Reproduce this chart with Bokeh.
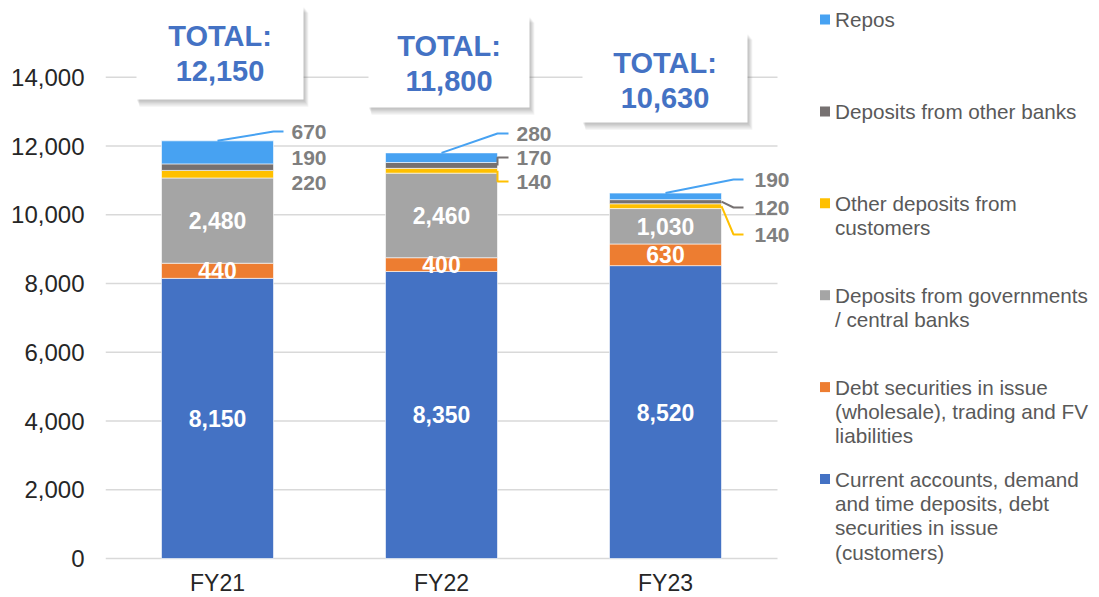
import numpy as np
from bokeh.plotting import figure
from bokeh.models import ColumnDataSource, FixedTicker, NumeralTickFormatter, Range1d
from bokeh.core.properties import value
from bokeh.embed import file_html
from bokeh.resources import INLINE

# ---------------- data ----------------
years = ["FY21", "FY22", "FY23"]
current_accounts = [8150, 8350, 8520]
debt_securities = [440, 400, 630]
govt_deposits = [2480, 2460, 1030]
other_cust_deposits = [220, 140, 140]
other_bank_deposits = [190, 170, 120]
repos = [670, 280, 190]
totals = [12150, 11800, 10630]
y_ticks = [0, 2000, 4000, 6000, 8000, 10000, 12000, 14000]

series_keys = ["current", "debt", "govt", "other_cust", "other_banks", "repos"]
series_values = [current_accounts, debt_securities, govt_deposits,
                 other_cust_deposits, other_bank_deposits, repos]
series_labels = [
    "Current accounts, demand\nand time deposits, debt\nsecurities in issue\n(customers)",
    "Debt securities in issue\n(wholesale), trading and FV\nliabilities",
    "Deposits from governments\n/ central banks",
    "Other deposits from\ncustomers",
    "Deposits from other banks",
    "Repos",
]
colors = ["#4472C4", "#ED7D31", "#A5A5A5", "#FFC000", "#767171", "#47A2F2"]

# ---------------- geometry helpers (layout only) ----------------
W, H = 1091, 597
LEFT_BORDER = 105
PX_PER_X = 224.0
Y_MAX = 16000
PX_PER_Y = 550.0 / Y_MAX
FRAME_LEFT = LEFT_BORDER   # picture x of frame left
ZERO_Y = 558.0             # picture y of value 0

def X(rx):
    return (rx - FRAME_LEFT) / PX_PER_X

def Y(ry):
    return (ZERO_Y - ry) / PX_PER_Y

def dx(px):
    return px / PX_PER_X

FONT = value("Liberation Sans")
n = len(years)
xs = list(np.arange(n) + 0.5)
BAR_W = 0.5
FRAME_W = W - LEFT_BORDER

p = figure(width=W, height=H,
           x_range=Range1d(0, FRAME_W / PX_PER_X),
           y_range=Range1d(Y(H), Y(0)),
           x_axis_location=None,
           min_border_left=LEFT_BORDER, min_border_right=0, min_border_top=0,
           min_border_bottom=0,
           output_backend="svg", toolbar_location=None, outline_line_color=None,
           background_fill_color="white", border_fill_color="white")
p.xgrid.visible = False
p.ygrid.visible = False

# gridlines (drawn only over the category area)
p.segment(x0=[0] * len(y_ticks), x1=[n] * len(y_ticks), y0=y_ticks, y1=y_ticks,
          line_color="#D9D9D9", line_width=1.3)

# stacked bars
data = {"x": xs}
for k, v in zip(series_keys, series_values):
    data[k] = v
src = ColumnDataSource(data)
p.vbar_stack(series_keys, x="x", width=BAR_W, color=colors, source=src,
             line_color="white", line_width=0.6)

# category labels (x axis)
p.text(x=xs, y=[Y(582)] * n, text=years, text_color="#262626", text_font=FONT,
       text_font_size="23px", text_align="center", text_baseline="middle")

# cumulative bottoms
vals = np.array(series_values, dtype=float)
bottoms = np.vstack([np.zeros(n), np.cumsum(vals, axis=0)[:-1]])

# inside labels (white) for first three series
in_x, in_y, in_t = [], [], []
for si in range(3):
    for i in range(n):
        in_x.append(xs[i])
        in_y.append(bottoms[si][i] + vals[si][i] / 2)
        in_t.append(f"{int(vals[si][i]):,}")
p.text(x=in_x, y=in_y, text=in_t, text_color="white", text_font=FONT,
       text_font_style="bold", text_font_size="23px",
       text_align="center", text_baseline="middle")

# small outside labels with leader lines (repos, other banks, other customers)
small_idx = [5, 4, 3]
small_label_y = [[131, 157, 182], [133, 157, 181], [179, 207, 234]]
label_x_off = [18, 19, 33]
elbow_off = [0, 0, 12]
end_off = [10, 11, 22]
leader_on = [[True, False, False], [True, True, True], [True, True, True]]

sl_x, sl_y, sl_t = [], [], []
for i in range(n):
    right = xs[i] + BAR_W / 2
    for j, si in enumerate(small_idx):
        ly = Y(small_label_y[i][j])
        sl_x.append(right + dx(label_x_off[i]))
        sl_y.append(ly)
        sl_t.append(f"{int(vals[si][i]):,}")
        if leader_on[i][j]:
            if si == 5:
                sx, sy = xs[i], bottoms[si][i] + vals[si][i]
            else:
                sx, sy = right, bottoms[si][i] + vals[si][i] / 2
            p.line([sx, right + dx(elbow_off[i]), right + dx(end_off[i])],
                   [sy, ly, ly], line_color=colors[si], line_width=2)
p.text(x=sl_x, y=sl_y, text=sl_t, text_color="#7F7F7F", text_font=FONT,
       text_font_style="bold", text_font_size="21px",
       text_align="left", text_baseline="middle")

# total boxes with soft shadow
box_px = [(-81, 6, 86, 99), (-73, 16, 88, 107), (-83, 33, 82, 122)]
for i in range(n):
    l, t, r, b = box_px[i]
    cx = xs[i]
    for k in range(1, 7):
        p.quad(left=cx + dx(l + 0.5 * k), right=cx + dx(r + 0.8 * k),
               top=Y(t + 1.0 * k), bottom=Y(b + 1.2 * k),
               fill_color="#606060", fill_alpha=0.08, line_color=None)
    p.quad(left=cx + dx(l), right=cx + dx(r), top=Y(t), bottom=Y(b),
           fill_color="white", line_color=None)
    tx = cx + dx((l + r) / 2)
    p.text(x=[tx, tx], y=[Y(t + 29), Y(t + 64)],
           text=["TOTAL:", f"{totals[i]:,}"], text_color="#4472C4",
           text_font=FONT, text_font_style="bold", text_font_size="29px",
           text_align="center", text_baseline="middle")

# legend (manual, evenly spaced like the original)
leg_first_y = 19
leg_step = 91.9
leg_line = 24.4
order = list(reversed(range(len(series_keys))))
for r, si in enumerate(order):
    cy = leg_first_y + r * leg_step
    p.quad(left=X(819.5), right=X(829.5), top=Y(cy - 5), bottom=Y(cy + 5),
           fill_color=colors[si], line_color=None)
    lines = series_labels[si].split("\n")
    p.text(x=[X(834.5)] * len(lines),
           y=[Y(cy + k * leg_line) for k in range(len(lines))],
           text=lines, text_color="#595959", text_font=FONT,
           text_font_size="20.7px", text_align="left", text_baseline="middle")

# y axis
p.yaxis.ticker = FixedTicker(ticks=y_ticks)
p.yaxis.formatter = NumeralTickFormatter(format="0,0")
p.yaxis.major_label_text_font = "Liberation Sans"
p.yaxis.major_label_text_font_size = "24px"
p.yaxis.major_label_text_color = "#262626"
p.yaxis.major_label_standoff = 15
p.yaxis.axis_line_color = None
p.yaxis.major_tick_line_color = None
p.yaxis.minor_tick_line_color = None

open("out.html", "w").write(file_html(p, INLINE))
